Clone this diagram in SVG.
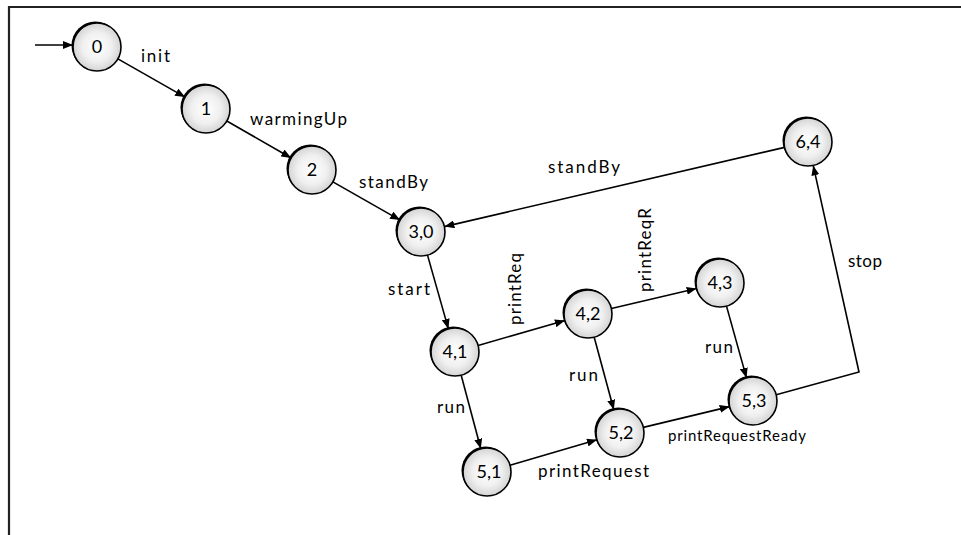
<svg xmlns="http://www.w3.org/2000/svg" width="961" height="535" viewBox="0 0 961 535">
<defs>
<radialGradient id="g" cx="50%" cy="50%" r="50%">
<stop offset="0" stop-color="#ffffff"/>
<stop offset="0.6" stop-color="#f0f0f0"/>
<stop offset="1" stop-color="#d4d4d4"/>
</radialGradient>
<marker id="ah" markerUnits="userSpaceOnUse" markerWidth="11" markerHeight="8" refX="10" refY="4" orient="auto">
<path d="M0,0 L10,4 L0,8 z" fill="#000"/>
</marker>
<style>
.n circle.s{fill:#000}
.n circle.c{fill:url(#g);stroke:#000;stroke-width:1.6}
.n text{font-family:Lato,"Liberation Sans",sans-serif;font-size:18px;text-anchor:middle;fill:#000}
.e{fill:none;stroke:#000;stroke-width:1.6}
.a{marker-end:url(#ah)}
.l{font-family:Lato,"Liberation Sans",sans-serif;font-size:17px;fill:#000}
</style>
</defs>
<rect x="0" y="0" width="961" height="535" fill="#fff"/>
<g id="frame" fill="none" stroke="#222" stroke-width="2.2">
<path d="M9,535 L9,7 L961,7"/>
</g>
<g id="connectors">
<path class="e a" d="M35,45 L73,45"/>
<path class="e a" d="M117.9,58.9 L185.1,97.1"/>
<path class="e a" d="M226.8,121 L291.2,158"/>
<path class="e a" d="M332.9,181.9 L400.1,220.1"/>
<path class="e a" d="M427.5,255.1 L448.4,328.9"/>
<path class="e a" d="M478.1,345.4 L564.9,320.6"/>
<path class="e a" d="M461.2,375.2 L480.8,448.8"/>
<path class="e a" d="M611.4,308.5 L696.6,288.5"/>
<path class="e a" d="M594.2,337.2 L613.8,409.8"/>
<path class="e a" d="M510,465.2 L597,439.8"/>
<path class="e a" d="M643.3,427.4 L729.7,406.6"/>
<path class="e a" d="M726.5,306.1 L746.5,377.9"/>
<path class="e a" d="M776.2,394.7 L859,372 L813.2,165.4"/>
<path class="e a" d="M784.6,147.4 L444.4,226.6"/>
</g>
<g id="labels">
<text class="l" x="141" y="62" textLength="29" lengthAdjust="spacing">init</text>
<text class="l" x="250" y="125" textLength="97" lengthAdjust="spacing">warmingUp</text>
<text class="l" x="359" y="188" textLength="69" lengthAdjust="spacing">standBy</text>
<text class="l" x="548" y="173" textLength="72" lengthAdjust="spacing">standBy</text>
<text class="l" x="388" y="295" textLength="42" lengthAdjust="spacing">start</text>
<text class="l" transform="translate(521,325) rotate(-90)" textLength="72" lengthAdjust="spacing">printReq</text>
<text class="l" transform="translate(651,292) rotate(-90)" textLength="84" lengthAdjust="spacing">printReqR</text>
<text class="l" x="437" y="413" textLength="28" lengthAdjust="spacing">run</text>
<text class="l" x="569" y="381" textLength="29" lengthAdjust="spacing">run</text>
<text class="l" x="705" y="353" textLength="28" lengthAdjust="spacing">run</text>
<text class="l" x="538" y="477" textLength="111" lengthAdjust="spacing">printRequest</text>
<text class="l" x="668" y="441" style="font-size:15px" textLength="138" lengthAdjust="spacing">printRequestReady</text>
<text class="l" x="848" y="267" textLength="34" lengthAdjust="spacing">stop</text>
</g>
<g id="n0" class="n"><circle class="s" cx="95.5" cy="45.5" r="24"/><circle class="c" cx="97" cy="47" r="24"/><text x="97" y="53">0</text></g>
<g id="n1" class="n"><circle class="s" cx="204.5" cy="107.5" r="24"/><circle class="c" cx="206" cy="109" r="24"/><text x="206" y="115">1</text></g>
<g id="n2" class="n"><circle class="s" cx="310.5" cy="168.5" r="24"/><circle class="c" cx="312" cy="170" r="24"/><text x="312" y="176">2</text></g>
<g id="n30" class="n"><circle class="s" cx="419.5" cy="230.5" r="24"/><circle class="c" cx="421" cy="232" r="24"/><text x="421" y="238">3,0</text></g>
<g id="n41" class="n"><circle class="s" cx="453.5" cy="350.5" r="24"/><circle class="c" cx="455" cy="352" r="24"/><text x="455" y="358">4,1</text></g>
<g id="n42" class="n"><circle class="s" cx="586.5" cy="312.5" r="24"/><circle class="c" cx="588" cy="314" r="24"/><text x="588" y="320">4,2</text></g>
<g id="n43" class="n"><circle class="s" cx="718.5" cy="281.5" r="24"/><circle class="c" cx="720" cy="283" r="24"/><text x="720" y="289">4,3</text></g>
<g id="n51" class="n"><circle class="s" cx="485.5" cy="470.5" r="24"/><circle class="c" cx="487" cy="472" r="24"/><text x="489" y="478">5,1</text></g>
<g id="n52" class="n"><circle class="s" cx="618.5" cy="431.5" r="24"/><circle class="c" cx="620" cy="433" r="24"/><text x="621" y="439">5,2</text></g>
<g id="n53" class="n"><circle class="s" cx="751.5" cy="399.5" r="24"/><circle class="c" cx="753" cy="401" r="24"/><text x="754" y="407">5,3</text></g>
<g id="n64" class="n"><circle class="s" cx="806.5" cy="140.5" r="24"/><circle class="c" cx="808" cy="142" r="24"/><text x="808" y="148">6,4</text></g>
</svg>
